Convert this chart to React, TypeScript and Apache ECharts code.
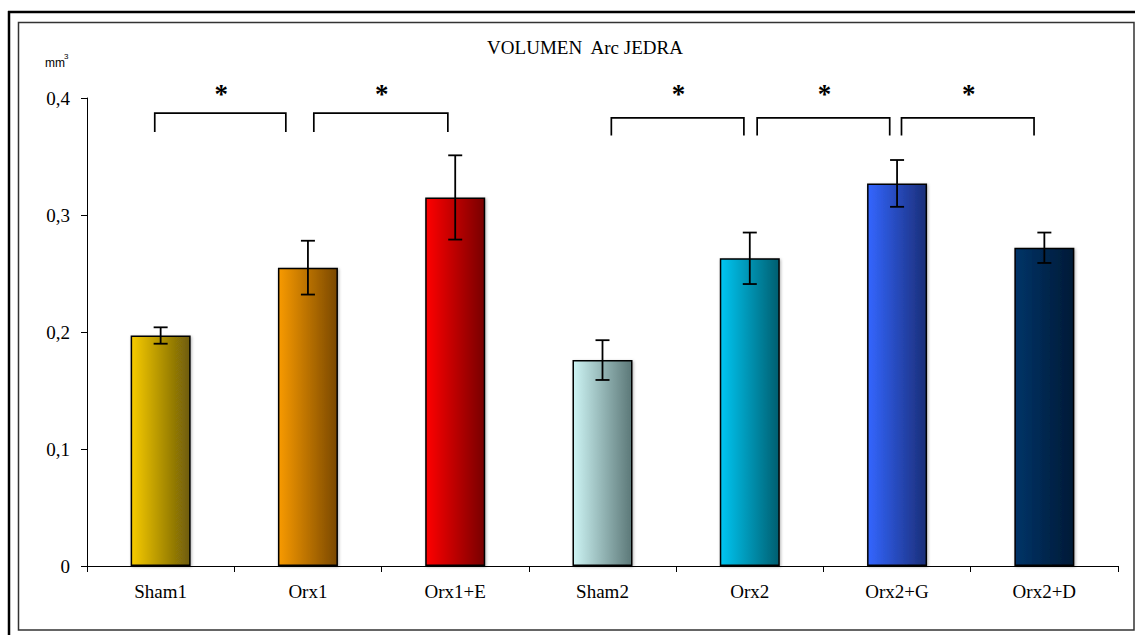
import React, { useEffect, useRef } from "react";
import * as echarts from "echarts";

const categories = ["Sham1", "Orx1", "Orx1+E", "Sham2", "Orx2", "Orx2+G", "Orx2+D"];
const means = [0.197, 0.255, 0.315, 0.176, 0.263, 0.327, 0.272];
const sems = [0.007, 0.023, 0.036, 0.017, 0.022, 0.02, 0.013];
const yTickLabels = ["0", "0,1", "0,2", "0,3", "0,4"];
const colorLeft = ["#F7CB00", "#F89A00", "#FF0000", "#CDF4F4", "#00C6F2", "#3366FF", "#003468"];
const colorRight = ["#6E5C08", "#7A4800", "#780000", "#5C7878", "#005E70", "#1B2E78", "#001A36"];

// significance brackets (positions in category units), bracket heights, star height
const bracketFrom = [-0.04, 1.04, 3.06, 4.05, 5.03];
const bracketTo = [0.85, 1.95, 3.96, 4.95, 5.93];
const bracketTop = [0.387, 0.387, 0.383, 0.383, 0.383];
const bracketLeg = [0.371, 0.371, 0.368, 0.368, 0.368];
const starLevel = 0.4032;

const SERIF = "'Liberation Serif', 'Times New Roman', serif";

export default function App() {
  const ref = useRef<HTMLDivElement>(null);
  useEffect(() => {
    if (!ref.current) return;
    const chart = echarts.init(ref.current, undefined, { renderer: "svg" });

    const barData = means.map((v, i) => ({
      value: v,
      itemStyle: {
        color: new echarts.graphic.LinearGradient(0, 0, 1, 0, [
          { offset: 0, color: colorLeft[i] },
          { offset: 1, color: colorRight[i] },
        ]),
      },
    }));

    const errData = means.map((v, i) => [i, v - sems[i], v + sems[i]]);
    const bracketData = bracketFrom.map((f, i) => [f, bracketTo[i], bracketTop[i], bracketLeg[i]]);

    chart.setOption({
      animation: false,
      backgroundColor: "#ffffff",
      title: {
        text: "VOLUMEN  Arc JEDRA",
        left: 585,
        top: 38,
        textAlign: "center",
        padding: 0,
        textStyle: { fontFamily: SERIF, fontSize: 19, fontWeight: "normal", color: "#000" },
      },
      graphic: [
        { type: "rect", shape: { x: 18.5, y: 22.5, width: 1115.5, height: 607.5 }, style: { fill: "none", stroke: "#333", lineWidth: 1.5 }, silent: true },
        { type: "line", shape: { x1: 8, y1: 12, x2: 1135, y2: 12 }, style: { stroke: "#000", lineWidth: 2.5 }, silent: true },
        { type: "line", shape: { x1: 9, y1: 11, x2: 9, y2: 635 }, style: { stroke: "#000", lineWidth: 2.5 }, silent: true },
        { type: "text", x: 45, y: 62.5, style: { text: "mm", font: "12px 'Liberation Sans', Arial, sans-serif", fill: "#000", textVerticalAlign: "middle" } },
        { type: "text", x: 64, y: 56.5, style: { text: "3", font: "8px 'Liberation Sans', Arial, sans-serif", fill: "#000", textVerticalAlign: "middle" } },
      ],
      grid: { left: 87, right: 17, top: 98, bottom: 69, containLabel: false },
      xAxis: [
        {
          type: "category",
          data: categories,
          axisLine: { lineStyle: { color: "#000", width: 1 } },
          axisTick: { show: true, length: 6, lineStyle: { color: "#000" } },
          axisLabel: { color: "#000", fontFamily: SERIF, fontSize: 19, margin: 16 },
        },
        { type: "value", min: -0.5, max: 6.5, show: false },
      ],
      yAxis: {
        type: "value",
        min: 0,
        max: 0.4,
        interval: 0.1,
        axisLine: { show: true, onZero: false, lineStyle: { color: "#000", width: 1 } },
        axisTick: { show: true, length: 6, lineStyle: { color: "#000" } },
        splitLine: { show: false },
        axisLabel: {
          color: "#000",
          fontFamily: SERIF,
          fontSize: 19,
          margin: 17,
          formatter: (_v: number, idx: number) => yTickLabels[idx],
        },
      },
      series: [
        {
          type: "bar",
          data: barData,
          barWidth: 60,
          itemStyle: {
            borderColor: "#000",
            borderWidth: 1.5,
            shadowColor: "rgba(0,0,0,0.3)",
            shadowBlur: 3,
            shadowOffsetX: 1,
            shadowOffsetY: 1,
          },
          silent: true,
        },
        {
          type: "custom",
          data: errData,
          encode: { x: 0, y: [1, 2] },
          z: 5,
          silent: true,
          renderItem: (_p: any, api: any) => {
            const x = api.value(0);
            const lo = api.coord([x, api.value(1)]);
            const hi = api.coord([x, api.value(2)]);
            const hw = 7;
            const st = { stroke: "#000", lineWidth: 1.8 };
            return {
              type: "group",
              children: [
                { type: "line", shape: { x1: lo[0], y1: lo[1], x2: hi[0], y2: hi[1] }, style: st },
                { type: "line", shape: { x1: lo[0] - hw, y1: lo[1], x2: lo[0] + hw, y2: lo[1] }, style: st },
                { type: "line", shape: { x1: hi[0] - hw, y1: hi[1], x2: hi[0] + hw, y2: hi[1] }, style: st },
              ],
            };
          },
        },
        {
          type: "custom",
          xAxisIndex: 1,
          data: bracketData,
          encode: { x: [0, 1], y: [2, 3] },
          z: 5,
          silent: true,
          renderItem: (_p: any, api: any) => {
            const a = api.value(0);
            const b = api.value(1);
            const t = api.value(2);
            const l = api.value(3);
            const pa = api.coord([a, t]);
            const pb = api.coord([b, t]);
            const pal = api.coord([a, l]);
            const pbl = api.coord([b, l]);
            const star = api.coord([(a + b) / 2, starLevel]);
            return {
              type: "group",
              children: [
                {
                  type: "polyline",
                  shape: { points: [[pal[0], pal[1]], [pa[0], pa[1]], [pb[0], pb[1]], [pbl[0], pbl[1]]] },
                  style: { stroke: "#000", lineWidth: 1.7, fill: "none" },
                },
                {
                  type: "text",
                  x: star[0] + 1,
                  y: star[1],
                  style: {
                    text: "*",
                    font: `bold 27px ${SERIF}`,
                    fill: "#000",
                    textAlign: "center",
                    textVerticalAlign: "middle",
                  },
                },
              ],
            };
          },
        },
      ],
    });

    return () => chart.dispose();
  }, []);

  return (
    <div
      ref={ref}
      style={{ position: "fixed", left: 0, top: 0, width: 1135, height: 635, background: "#fff" }}
    />
  );
}
